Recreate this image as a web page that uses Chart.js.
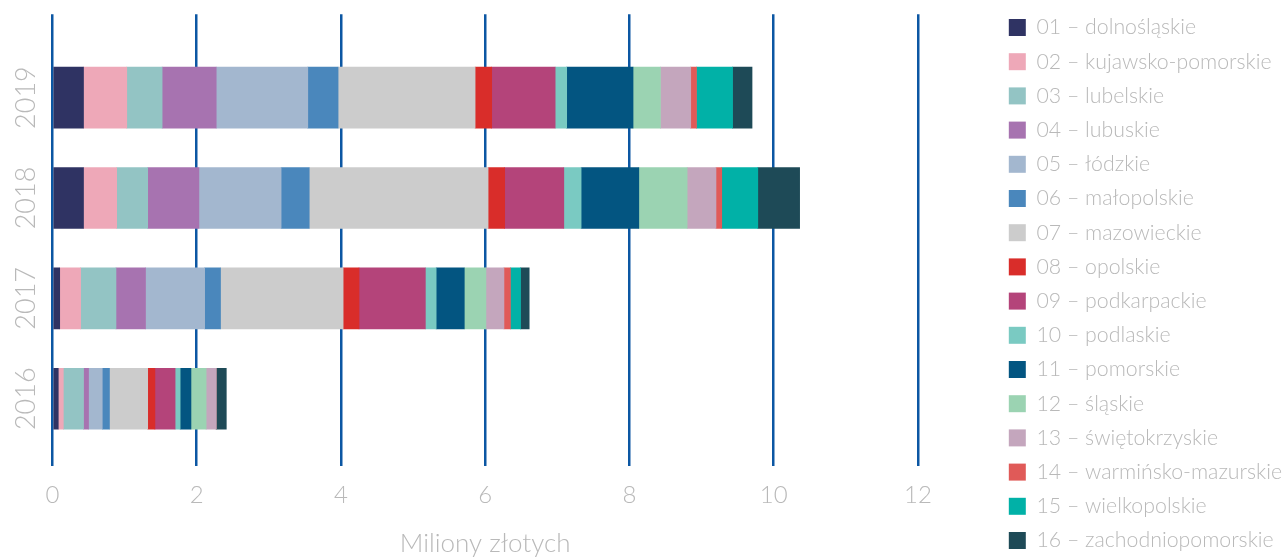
<!DOCTYPE html>
<html lang="pl">
<head>
<meta charset="utf-8">
<title>Wydatki według województw</title>
<script src="https://cdn.jsdelivr.net/npm/chart.js@4/dist/chart.umd.min.js"></script>
<style>
  html, body { margin: 0; padding: 0; background: #ffffff; }
  #wrap { width: 1288px; height: 560px; }
</style>
</head>
<body>
<div id="wrap"><canvas id="chart" width="1288" height="560"></canvas></div>
<script>
// Lata (od góry)
const years = ['2019', '2018', '2017', '2016'];

// Województwa w kolejności stosu
const regions = [
  '01 – dolnośląskie', '02 – kujawsko-pomorskie', '03 – lubelskie', '04 – lubuskie',
  '05 – łódzkie', '06 – małopolskie', '07 – mazowieckie', '08 – opolskie',
  '09 – podkarpackie', '10 – podlaskie', '11 – pomorskie', '12 – śląskie',
  '13 – świętokrzyskie', '14 – warmińsko-mazurskie', '15 – wielkopolskie', '16 – zachodniopomorskie'
];

// Kwoty w mln zł, kolejno dla województw 01–16
const values2019 = [0.43, 0.60, 0.49, 0.75, 1.27, 0.42, 1.90, 0.23, 0.88, 0.16, 0.92, 0.38, 0.42, 0.08, 0.50, 0.27];
const values2018 = [0.43, 0.46, 0.43, 0.71, 1.14, 0.39, 2.48, 0.23, 0.82, 0.24, 0.80, 0.67, 0.40, 0.08, 0.50, 0.58];
const values2017 = [0.10, 0.29, 0.49, 0.41, 0.82, 0.22, 1.70, 0.22, 0.92, 0.15, 0.39, 0.30, 0.25, 0.09, 0.14, 0.12];
const values2016 = [0.08, 0.07, 0.28, 0.07, 0.19, 0.10, 0.53, 0.10, 0.28, 0.07, 0.15, 0.21, 0.14, 0.00, 0.00, 0.14];

// Oś X
const xTicks = [0, 2, 4, 6, 8, 10, 12];
const axisTitle = 'Miliony złotych';

const colors = [
  '#2f3363', '#eea8b8', '#93c4c4', '#a773b0', '#a3b7cf', '#4a87bc', '#cccccc', '#d92d2a',
  '#b4447a', '#7acac2', '#035581', '#9bd3b2', '#c4a6bd', '#e05a58', '#01b1a7', '#1e4a57'
];

const byYear = [values2019, values2018, values2017, values2016];
const textGrey = '#b9b9b9';
const fontFamily = "Lato, 'Noto Sans', sans-serif";

const datasets = regions.map((name, i) => ({
  label: name,
  data: years.map((_, j) => ({ x: byYear[j][i], y: j })),
  backgroundColor: colors[i],
  borderWidth: 0,
  barThickness: 61
}));

// Niewidoczne osie pomocnicze: margines nad wykresem i odstęp przed legendą
const spacer = (size, position) => ({
  type: 'linear',
  position,
  display: false,
  afterFit: s => { if (position === 'top') { s.height = size; } else { s.width = size; } }
});

new Chart(document.getElementById('chart'), {
  type: 'bar',
  data: { datasets },
  options: {
    indexAxis: 'y',
    responsive: false,
    animation: false,
    devicePixelRatio: 1,
    layout: { padding: { top: 0, right: -4, bottom: -8, left: 0 } },
    plugins: {
      tooltip: { enabled: false },
      legend: {
        position: 'right',
        align: 'center',
        labels: {
          boxWidth: 17,
          boxHeight: 17,
          padding: 12.9,
          color: textGrey,
          font: { family: fontFamily, size: 21.3, weight: '300' }
        }
      }
    },
    scales: {
      x: {
        type: 'linear',
        stacked: true,
        min: 0,
        max: 12,
        afterBuildTicks: s => { s.ticks = xTicks.map(v => ({ value: v })); },
        grid: { color: '#0c57a3', lineWidth: 2.5, drawTicks: false },
        border: { display: false },
        ticks: {
          padding: 14.5,
          color: textGrey,
          font: { family: fontFamily, size: 24, weight: '300' }
        },
        title: {
          display: true,
          text: axisTitle,
          color: textGrey,
          padding: { top: 4, bottom: 9 },
          font: { family: fontFamily, size: 26, weight: '300' }
        }
      },
      y: {
        type: 'linear',
        stacked: true,
        reverse: true,
        offset: false,
        min: -0.83,
        max: 3.67,
        afterBuildTicks: s => { s.ticks = years.map((_, j) => ({ value: j })); },
        afterFit: s => { s.width = 52.5; },
        grid: { display: false, offset: false },
        border: { display: false },
        ticks: {
          minRotation: 90,
          maxRotation: 90,
          crossAlign: 'center',
          padding: -13,
          color: textGrey,
          font: { family: fontFamily, size: 27, weight: '300' },
          callback: v => years[v]
        }
      },
      topGap: spacer(14.3, 'top'),
      legendGap: spacer(78, 'right')
    }
  }
});
</script>
</body>
</html>
